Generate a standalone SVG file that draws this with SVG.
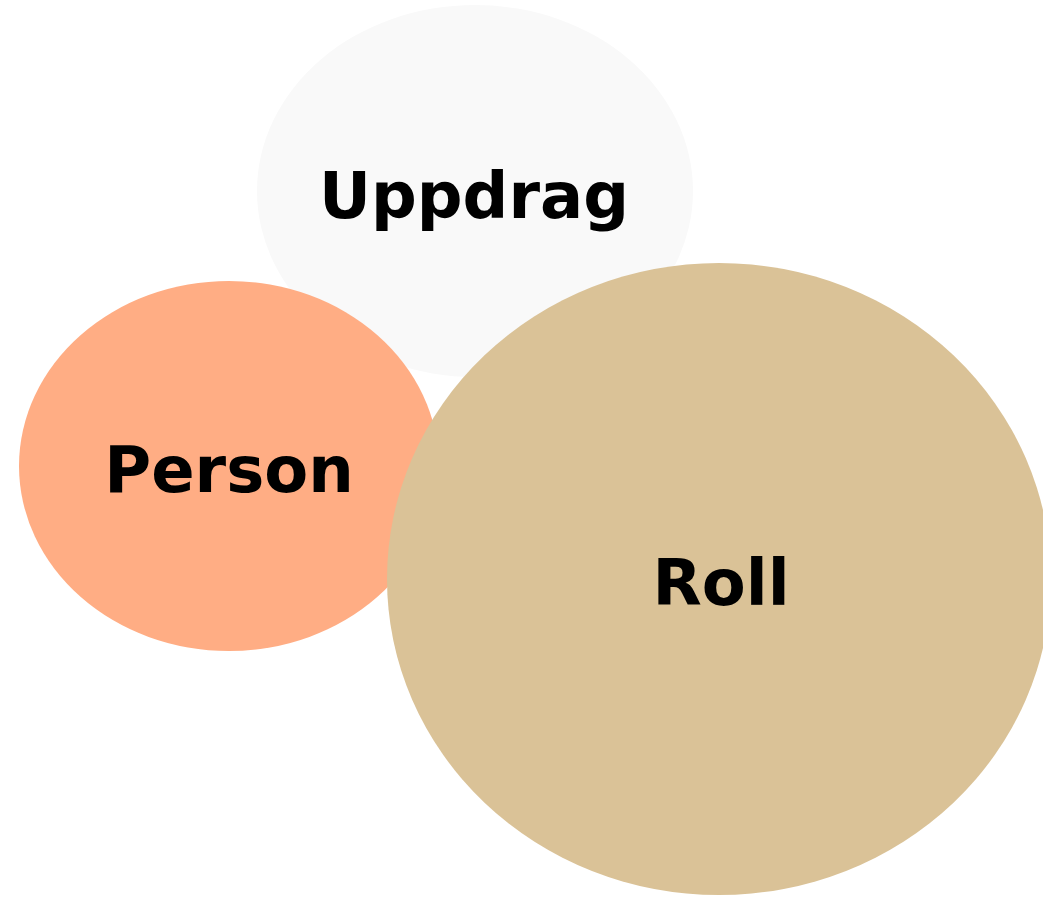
<svg xmlns="http://www.w3.org/2000/svg" width="1043" height="897" viewBox="0 0 1043 897">
<style>
.lbl{font-family:"DejaVu Sans",sans-serif;font-weight:bold;font-size:64px;fill:#000;text-anchor:middle}
</style>
<rect width="1043" height="897" fill="#fff"/>
<g id="uppdrag"><ellipse cx="475" cy="191" rx="218" ry="186" fill="#f9f9f9"/><text class="lbl" x="474" y="218">Uppdrag</text></g>
<g id="person"><ellipse cx="229" cy="466" rx="210" ry="185" fill="#ffad84"/><text class="lbl" x="229" y="492">Person</text></g>
<g id="roll"><ellipse cx="719" cy="579" rx="332" ry="316" fill="#dac297"/><text class="lbl" x="721" y="605">Roll</text></g>
<g id="connectors"/>
</svg>
